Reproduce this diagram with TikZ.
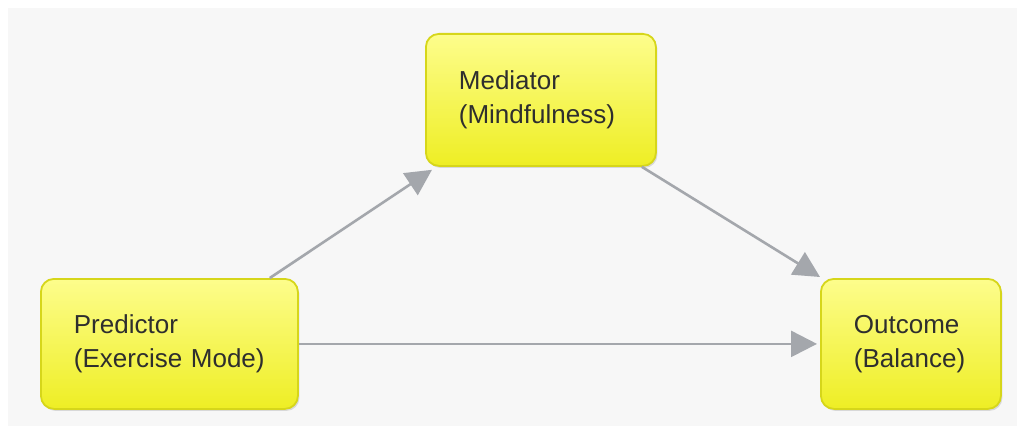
\documentclass[tikz,border=0pt]{standalone}
\usepackage{fontspec}
\setmainfont{Liberation Sans}
\usetikzlibrary{arrows.meta,calc,shadows}
\definecolor{bg}{HTML}{F7F7F7}
\definecolor{boxtop}{HTML}{FDFD8C}
\definecolor{boxbot}{HTML}{EEEE24}
\definecolor{boxline}{HTML}{D6D61A}
\definecolor{arrowgray}{HTML}{A4A7AC}
\definecolor{txt}{HTML}{2E2E2E}
\tikzset{
  varbox/.style={draw=boxline, line width=1.8pt, rounded corners=13pt,
    top color=boxtop, bottom color=boxbot, inner xsep=33pt, inner ysep=0pt,
    align=left, anchor=north west, text=txt,
    font=\fontsize{26}{34}\selectfont,
    drop shadow={shadow xshift=1.5pt, shadow yshift=-2pt, opacity=0.12, fill=black}},
  conn/.style={draw=arrowgray, line width=2.6pt,
    -{Triangle[length=26pt, width=26pt, fill=arrowgray]}}
}
\begin{document}
\begin{tikzpicture}[x=1pt,y=-1pt]
\useasboundingbox (0,0) rectangle (1025,433);
\fill[white] (0,0) rectangle (1025,433);
\fill[bg] (8,8) rectangle (1017,426);
\node[varbox, text width=191pt, minimum height=130pt] (pred) at (40,278) {\raisebox{-3pt}{\parbox{191pt}{Predictor\\(Exercise Mode)}}};
\node[varbox, text width=164pt, minimum height=132pt] (med) at (425,33) {\raisebox{-3pt}{\parbox{164pt}{Mediator\\(Mindfulness)}}};
\node[varbox, text width=114pt, minimum height=130pt] (out) at (820,278) {\raisebox{-3pt}{\parbox{114pt}{Outcome\\(Balance)}}};
\draw[conn] ([xshift=-29pt]pred.north east) -- ([xshift=7pt,yshift=-3pt]med.south west);
\draw[conn] ([xshift=-15pt]med.south east) -- ([yshift=1pt]out.north west);
\draw[conn] ([yshift=0pt]pred.east) -- ([xshift=-3pt,yshift=0pt]out.west);
\end{tikzpicture}
\end{document}
